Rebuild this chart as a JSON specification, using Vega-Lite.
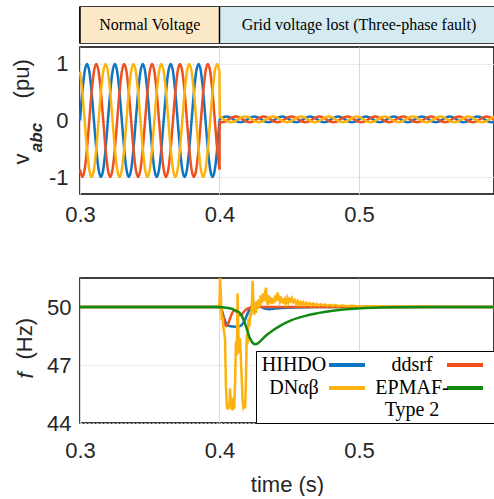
{
  "$schema": "https://vega.github.io/schema/vega-lite/v6.json",
  "autosize": {"type": "pad"},
  "padding": {"left": 9, "top": 5, "right": 0, "bottom": 0},
  "background": "white",
  "config": {
    "font": "Liberation Sans",
    "view": {"stroke": "#000", "strokeWidth": 1.5},
    "axis": {
      "labelFont": "Liberation Sans", "titleFont": "Liberation Sans",
      "labelFontSize": 22, "titleFontSize": 22,
      "labelColor": "#262626", "titleColor": "#262626", "titleFontWeight": "normal",
      "domain": false, "ticks": false,
      "gridColor": "#d9d9d9", "gridWidth": 1,
      "labelFlush": false, "labelOverlap": false
    }
  },
  "datasets": {
    "pre": [
      {"t":0.3,"a":0,"b":-0.866,"c":0.866},{"t":0.30167,"a":0.5,"b":-1,"c":0.5},{"t":0.30333,"a":0.866,"b":-0.866,"c":0},{"t":0.305,"a":1,"b":-0.5,"c":-0.5},{"t":0.30667,"a":0.866,"b":0,"c":-0.866},{"t":0.30833,"a":0.5,"b":0.5,"c":-1},{"t":0.31,"a":0,"b":0.866,"c":-0.866},{"t":0.31167,"a":-0.5,"b":1,"c":-0.5},{"t":0.31333,"a":-0.866,"b":0.866,"c":0},{"t":0.315,"a":-1,"b":0.5,"c":0.5},{"t":0.31667,"a":-0.866,"b":0,"c":0.866},{"t":0.31833,"a":-0.5,"b":-0.5,"c":1},
      {"t":0.32,"a":0,"b":-0.866,"c":0.866},{"t":0.32167,"a":0.5,"b":-1,"c":0.5},{"t":0.32333,"a":0.866,"b":-0.866,"c":0},{"t":0.325,"a":1,"b":-0.5,"c":-0.5},{"t":0.32667,"a":0.866,"b":0,"c":-0.866},{"t":0.32833,"a":0.5,"b":0.5,"c":-1},{"t":0.33,"a":0,"b":0.866,"c":-0.866},{"t":0.33167,"a":-0.5,"b":1,"c":-0.5},{"t":0.33333,"a":-0.866,"b":0.866,"c":0},{"t":0.335,"a":-1,"b":0.5,"c":0.5},{"t":0.33667,"a":-0.866,"b":0,"c":0.866},{"t":0.33833,"a":-0.5,"b":-0.5,"c":1},
      {"t":0.34,"a":0,"b":-0.866,"c":0.866},{"t":0.34167,"a":0.5,"b":-1,"c":0.5},{"t":0.34333,"a":0.866,"b":-0.866,"c":0},{"t":0.345,"a":1,"b":-0.5,"c":-0.5},{"t":0.34667,"a":0.866,"b":0,"c":-0.866},{"t":0.34833,"a":0.5,"b":0.5,"c":-1},{"t":0.35,"a":0,"b":0.866,"c":-0.866},{"t":0.35167,"a":-0.5,"b":1,"c":-0.5},{"t":0.35333,"a":-0.866,"b":0.866,"c":0},{"t":0.355,"a":-1,"b":0.5,"c":0.5},{"t":0.35667,"a":-0.866,"b":0,"c":0.866},{"t":0.35833,"a":-0.5,"b":-0.5,"c":1},
      {"t":0.36,"a":0,"b":-0.866,"c":0.866},{"t":0.36167,"a":0.5,"b":-1,"c":0.5},{"t":0.36333,"a":0.866,"b":-0.866,"c":0},{"t":0.365,"a":1,"b":-0.5,"c":-0.5},{"t":0.36667,"a":0.866,"b":0,"c":-0.866},{"t":0.36833,"a":0.5,"b":0.5,"c":-1},{"t":0.37,"a":0,"b":0.866,"c":-0.866},{"t":0.37167,"a":-0.5,"b":1,"c":-0.5},{"t":0.37333,"a":-0.866,"b":0.866,"c":0},{"t":0.375,"a":-1,"b":0.5,"c":0.5},{"t":0.37667,"a":-0.866,"b":0,"c":0.866},{"t":0.37833,"a":-0.5,"b":-0.5,"c":1},
      {"t":0.38,"a":0,"b":-0.866,"c":0.866},{"t":0.38167,"a":0.5,"b":-1,"c":0.5},{"t":0.38333,"a":0.866,"b":-0.866,"c":0},{"t":0.385,"a":1,"b":-0.5,"c":-0.5},{"t":0.38667,"a":0.866,"b":0,"c":-0.866},{"t":0.38833,"a":0.5,"b":0.5,"c":-1},{"t":0.39,"a":0,"b":0.866,"c":-0.866},{"t":0.39167,"a":-0.5,"b":1,"c":-0.5},{"t":0.39333,"a":-0.866,"b":0.866,"c":0},{"t":0.395,"a":-1,"b":0.5,"c":0.5},{"t":0.39667,"a":-0.866,"b":0,"c":0.866},{"t":0.39833,"a":-0.5,"b":-0.5,"c":1},
      {"t":0.4,"a":0,"b":-0.866,"c":0.866}
    ],
    "post": [
      {"t":0.4,"a":0,"b":-0.866,"c":0.866},
      {"t":0.4002,"a":0.02,"b":-0.023,"c":0.063},{"t":0.40167,"a":0.045,"b":-0.03,"c":0.045},{"t":0.40333,"a":0.063,"b":-0.023,"c":0.02},{"t":0.405,"a":0.07,"b":-0.005,"c":-0.005},{"t":0.40667,"a":0.063,"b":0.02,"c":-0.023},{"t":0.40833,"a":0.045,"b":0.045,"c":-0.03},{"t":0.41,"a":0.02,"b":0.063,"c":-0.023},{"t":0.41167,"a":-0.005,"b":0.07,"c":-0.005},{"t":0.41333,"a":-0.023,"b":0.063,"c":0.02},{"t":0.415,"a":-0.03,"b":0.045,"c":0.045},{"t":0.41667,"a":-0.023,"b":0.02,"c":0.063},{"t":0.41833,"a":-0.005,"b":-0.005,"c":0.07},
      {"t":0.42,"a":0.02,"b":-0.023,"c":0.063},{"t":0.42167,"a":0.045,"b":-0.03,"c":0.045},{"t":0.42333,"a":0.063,"b":-0.023,"c":0.02},{"t":0.425,"a":0.07,"b":-0.005,"c":-0.005},{"t":0.42667,"a":0.063,"b":0.02,"c":-0.023},{"t":0.42833,"a":0.045,"b":0.045,"c":-0.03},{"t":0.43,"a":0.02,"b":0.063,"c":-0.023},{"t":0.43167,"a":-0.005,"b":0.07,"c":-0.005},{"t":0.43333,"a":-0.023,"b":0.063,"c":0.02},{"t":0.435,"a":-0.03,"b":0.045,"c":0.045},{"t":0.43667,"a":-0.023,"b":0.02,"c":0.063},{"t":0.43833,"a":-0.005,"b":-0.005,"c":0.07},
      {"t":0.44,"a":0.02,"b":-0.023,"c":0.063},{"t":0.44167,"a":0.045,"b":-0.03,"c":0.045},{"t":0.44333,"a":0.063,"b":-0.023,"c":0.02},{"t":0.445,"a":0.07,"b":-0.005,"c":-0.005},{"t":0.44667,"a":0.063,"b":0.02,"c":-0.023},{"t":0.44833,"a":0.045,"b":0.045,"c":-0.03},{"t":0.45,"a":0.02,"b":0.063,"c":-0.023},{"t":0.45167,"a":-0.005,"b":0.07,"c":-0.005},{"t":0.45333,"a":-0.023,"b":0.063,"c":0.02},{"t":0.455,"a":-0.03,"b":0.045,"c":0.045},{"t":0.45667,"a":-0.023,"b":0.02,"c":0.063},{"t":0.45833,"a":-0.005,"b":-0.005,"c":0.07},
      {"t":0.46,"a":0.02,"b":-0.023,"c":0.063},{"t":0.46167,"a":0.045,"b":-0.03,"c":0.045},{"t":0.46333,"a":0.063,"b":-0.023,"c":0.02},{"t":0.465,"a":0.07,"b":-0.005,"c":-0.005},{"t":0.46667,"a":0.063,"b":0.02,"c":-0.023},{"t":0.46833,"a":0.045,"b":0.045,"c":-0.03},{"t":0.47,"a":0.02,"b":0.063,"c":-0.023},{"t":0.47167,"a":-0.005,"b":0.07,"c":-0.005},{"t":0.47333,"a":-0.023,"b":0.063,"c":0.02},{"t":0.475,"a":-0.03,"b":0.045,"c":0.045},{"t":0.47667,"a":-0.023,"b":0.02,"c":0.063},{"t":0.47833,"a":-0.005,"b":-0.005,"c":0.07},
      {"t":0.48,"a":0.02,"b":-0.023,"c":0.063},{"t":0.48167,"a":0.045,"b":-0.03,"c":0.045},{"t":0.48333,"a":0.063,"b":-0.023,"c":0.02},{"t":0.485,"a":0.07,"b":-0.005,"c":-0.005},{"t":0.48667,"a":0.063,"b":0.02,"c":-0.023},{"t":0.48833,"a":0.045,"b":0.045,"c":-0.03},{"t":0.49,"a":0.02,"b":0.063,"c":-0.023},{"t":0.49167,"a":-0.005,"b":0.07,"c":-0.005},{"t":0.49333,"a":-0.023,"b":0.063,"c":0.02},{"t":0.495,"a":-0.03,"b":0.045,"c":0.045},{"t":0.49667,"a":-0.023,"b":0.02,"c":0.063},{"t":0.49833,"a":-0.005,"b":-0.005,"c":0.07},
      {"t":0.5,"a":0.02,"b":-0.023,"c":0.063},{"t":0.50167,"a":0.045,"b":-0.03,"c":0.045},{"t":0.50333,"a":0.063,"b":-0.023,"c":0.02},{"t":0.505,"a":0.07,"b":-0.005,"c":-0.005},{"t":0.50667,"a":0.063,"b":0.02,"c":-0.023},{"t":0.50833,"a":0.045,"b":0.045,"c":-0.03},{"t":0.51,"a":0.02,"b":0.063,"c":-0.023},{"t":0.51167,"a":-0.005,"b":0.07,"c":-0.005},{"t":0.51333,"a":-0.023,"b":0.063,"c":0.02},{"t":0.515,"a":-0.03,"b":0.045,"c":0.045},{"t":0.51667,"a":-0.023,"b":0.02,"c":0.063},{"t":0.51833,"a":-0.005,"b":-0.005,"c":0.07},
      {"t":0.52,"a":0.02,"b":-0.023,"c":0.063},{"t":0.52167,"a":0.045,"b":-0.03,"c":0.045},{"t":0.52333,"a":0.063,"b":-0.023,"c":0.02},{"t":0.525,"a":0.07,"b":-0.005,"c":-0.005},{"t":0.52667,"a":0.063,"b":0.02,"c":-0.023},{"t":0.52833,"a":0.045,"b":0.045,"c":-0.03},{"t":0.53,"a":0.02,"b":0.063,"c":-0.023},{"t":0.53167,"a":-0.005,"b":0.07,"c":-0.005},{"t":0.53333,"a":-0.023,"b":0.063,"c":0.02},{"t":0.535,"a":-0.03,"b":0.045,"c":0.045},{"t":0.53667,"a":-0.023,"b":0.02,"c":0.063},{"t":0.53833,"a":-0.005,"b":-0.005,"c":0.07},
      {"t":0.54,"a":0.02,"b":-0.023,"c":0.063},{"t":0.54167,"a":0.045,"b":-0.03,"c":0.045},{"t":0.54333,"a":0.063,"b":-0.023,"c":0.02},{"t":0.545,"a":0.07,"b":-0.005,"c":-0.005},{"t":0.54667,"a":0.063,"b":0.02,"c":-0.023},{"t":0.54833,"a":0.045,"b":0.045,"c":-0.03},{"t":0.55,"a":0.02,"b":0.063,"c":-0.023},{"t":0.55167,"a":-0.005,"b":0.07,"c":-0.005},{"t":0.55333,"a":-0.023,"b":0.063,"c":0.02},{"t":0.555,"a":-0.03,"b":0.045,"c":0.045},{"t":0.55667,"a":-0.023,"b":0.02,"c":0.063},{"t":0.55833,"a":-0.005,"b":-0.005,"c":0.07},
      {"t":0.56,"a":0.02,"b":-0.023,"c":0.063},{"t":0.56167,"a":0.045,"b":-0.03,"c":0.045},{"t":0.56333,"a":0.063,"b":-0.023,"c":0.02},{"t":0.565,"a":0.07,"b":-0.005,"c":-0.005},{"t":0.56667,"a":0.063,"b":0.02,"c":-0.023},{"t":0.56833,"a":0.045,"b":0.045,"c":-0.03},{"t":0.57,"a":0.02,"b":0.063,"c":-0.023},{"t":0.57167,"a":-0.005,"b":0.07,"c":-0.005},{"t":0.57333,"a":-0.023,"b":0.063,"c":0.02},{"t":0.575,"a":-0.03,"b":0.045,"c":0.045},{"t":0.57667,"a":-0.023,"b":0.02,"c":0.063},{"t":0.57833,"a":-0.005,"b":-0.005,"c":0.07},
      {"t":0.58,"a":0.02,"b":-0.023,"c":0.063},{"t":0.58167,"a":0.045,"b":-0.03,"c":0.045},{"t":0.58333,"a":0.063,"b":-0.023,"c":0.02},{"t":0.585,"a":0.07,"b":-0.005,"c":-0.005},{"t":0.58667,"a":0.063,"b":0.02,"c":-0.023},{"t":0.58833,"a":0.045,"b":0.045,"c":-0.03},{"t":0.59,"a":0.02,"b":0.063,"c":-0.023},{"t":0.59167,"a":-0.005,"b":0.07,"c":-0.005},{"t":0.59333,"a":-0.023,"b":0.063,"c":0.02},{"t":0.595,"a":-0.03,"b":0.045,"c":0.045},{"t":0.59667,"a":-0.023,"b":0.02,"c":0.063},{"t":0.59833,"a":-0.005,"b":-0.005,"c":0.07}
    ],
    "freq": [
      {"m":"HIHDO","t":0.3,"f":50},{"m":"HIHDO","t":0.4,"f":50},{"m":"HIHDO","t":0.4015,"f":49.85},{"m":"HIHDO","t":0.403,"f":49.5},{"m":"HIHDO","t":0.4045,"f":49.2},{"m":"HIHDO","t":0.406,"f":49.06},{"m":"HIHDO","t":0.408,"f":49.0},{"m":"HIHDO","t":0.411,"f":48.98},{"m":"HIHDO","t":0.414,"f":49.0},{"m":"HIHDO","t":0.416,"f":49.08},{"m":"HIHDO","t":0.418,"f":49.3},{"m":"HIHDO","t":0.4202,"f":49.67},{"m":"HIHDO","t":0.4225,"f":50.0},{"m":"HIHDO","t":0.425,"f":50.15},{"m":"HIHDO","t":0.4265,"f":50.18},{"m":"HIHDO","t":0.428,"f":50.12},{"m":"HIHDO","t":0.4305,"f":49.98},{"m":"HIHDO","t":0.433,"f":49.91},{"m":"HIHDO","t":0.436,"f":49.89},{"m":"HIHDO","t":0.44,"f":49.92},{"m":"HIHDO","t":0.445,"f":49.95},{"m":"HIHDO","t":0.455,"f":49.98},{"m":"HIHDO","t":0.47,"f":50},{"m":"HIHDO","t":0.5968,"f":50},
      {"m":"ddsrf","t":0.3,"f":50},{"m":"ddsrf","t":0.4,"f":50},{"m":"ddsrf","t":0.4015,"f":49.88},{"m":"ddsrf","t":0.403,"f":49.4},{"m":"ddsrf","t":0.4047,"f":49.0},{"m":"ddsrf","t":0.406,"f":49.1},{"m":"ddsrf","t":0.408,"f":49.5},{"m":"ddsrf","t":0.4106,"f":49.83},{"m":"ddsrf","t":0.4125,"f":49.72},{"m":"ddsrf","t":0.4142,"f":49.57},{"m":"ddsrf","t":0.416,"f":49.62},{"m":"ddsrf","t":0.418,"f":49.8},{"m":"ddsrf","t":0.4205,"f":49.93},{"m":"ddsrf","t":0.4235,"f":49.98},{"m":"ddsrf","t":0.427,"f":50},{"m":"ddsrf","t":0.5968,"f":50},
      {"m":"DNαβ","t":0.3,"f":50},{"m":"DNαβ","t":0.3995,"f":50},{"m":"DNαβ","t":0.4,"f":50.2},{"m":"DNαβ","t":0.4004,"f":51.5},{"m":"DNαβ","t":0.401,"f":50.6},{"m":"DNαβ","t":0.4016,"f":49.3},{"m":"DNαβ","t":0.4022,"f":49.5},{"m":"DNαβ","t":0.4028,"f":48.9},{"m":"DNαβ","t":0.4034,"f":48.7},{"m":"DNαβ","t":0.404,"f":48.3},{"m":"DNαβ","t":0.4046,"f":46.0},{"m":"DNαβ","t":0.4052,"f":44.9},{"m":"DNαβ","t":0.4058,"f":44.7},{"m":"DNαβ","t":0.4064,"f":45.0},{"m":"DNαβ","t":0.407,"f":44.75},{"m":"DNαβ","t":0.4076,"f":45.8},{"m":"DNαβ","t":0.4082,"f":44.9},{"m":"DNαβ","t":0.4088,"f":44.7},{"m":"DNαβ","t":0.4094,"f":45.3},{"m":"DNαβ","t":0.41,"f":44.75},{"m":"DNαβ","t":0.4106,"f":44.8},{"m":"DNαβ","t":0.4112,"f":46.2},{"m":"DNαβ","t":0.4118,"f":48.2},{"m":"DNαβ","t":0.4124,"f":47.5},{"m":"DNαβ","t":0.413,"f":50.7},{"m":"DNαβ","t":0.4136,"f":48.6},{"m":"DNαβ","t":0.4142,"f":47.6},{"m":"DNαβ","t":0.4148,"f":48.4},{"m":"DNαβ","t":0.4154,"f":47.2},{"m":"DNαβ","t":0.416,"f":46.2},{"m":"DNαβ","t":0.4166,"f":45.1},{"m":"DNαβ","t":0.4172,"f":44.8},{"m":"DNαβ","t":0.4178,"f":44.9},{"m":"DNαβ","t":0.4184,"f":44.75},{"m":"DNαβ","t":0.419,"f":46.4},{"m":"DNαβ","t":0.4196,"f":48.6},{"m":"DNαβ","t":0.4202,"f":48.1},{"m":"DNαβ","t":0.4208,"f":49.4},{"m":"DNαβ","t":0.4214,"f":49.0},{"m":"DNαβ","t":0.422,"f":49.7},{"m":"DNαβ","t":0.4226,"f":49.5},{"m":"DNαβ","t":0.4232,"f":50.1},{"m":"DNαβ","t":0.4238,"f":51.35},{"m":"DNαβ","t":0.4244,"f":50.0},{"m":"DNαβ","t":0.425,"f":49.6},{"m":"DNαβ","t":0.4256,"f":50.2},{"m":"DNαβ","t":0.4262,"f":49.7},{"m":"DNαβ","t":0.4268,"f":50.3},{"m":"DNαβ","t":0.4274,"f":49.9},{"m":"DNαβ","t":0.428,"f":50.4},{"m":"DNαβ","t":0.4288,"f":50.0},{"m":"DNαβ","t":0.4296,"f":50.6},{"m":"DNαβ","t":0.4304,"f":50.2},{"m":"DNαβ","t":0.4312,"f":50.7},{"m":"DNαβ","t":0.432,"f":50.3},{"m":"DNαβ","t":0.4328,"f":50.8},{"m":"DNαβ","t":0.4334,"f":51.0},{"m":"DNαβ","t":0.434,"f":50.3},{"m":"DNαβ","t":0.4347,"f":50.1},{"m":"DNαβ","t":0.4354,"f":50.6},{"m":"DNαβ","t":0.4361,"f":50.2},{"m":"DNαβ","t":0.4368,"f":50.5},{"m":"DNαβ","t":0.4375,"f":50.15},{"m":"DNαβ","t":0.4383,"f":50.45},{"m":"DNαβ","t":0.4391,"f":50.2},{"m":"DNαβ","t":0.44,"f":50.6},{"m":"DNαβ","t":0.4408,"f":50.3},{"m":"DNαβ","t":0.4416,"f":50.75},{"m":"DNαβ","t":0.4424,"f":50.5},{"m":"DNαβ","t":0.4432,"f":50.3},{"m":"DNαβ","t":0.444,"f":50.55},{"m":"DNαβ","t":0.4448,"f":50.2},{"m":"DNαβ","t":0.4456,"f":50.45},{"m":"DNαβ","t":0.4464,"f":50.15},{"m":"DNαβ","t":0.4472,"f":50.4},{"m":"DNαβ","t":0.448,"f":50.2},{"m":"DNαβ","t":0.4488,"f":50.45},{"m":"DNαβ","t":0.4496,"f":50.25},{"m":"DNαβ","t":0.4504,"f":50.4},{"m":"DNαβ","t":0.4512,"f":50.3},{"m":"DNαβ","t":0.452,"f":50.45},{"m":"DNαβ","t":0.453,"f":50.25},{"m":"DNαβ","t":0.454,"f":50.35},{"m":"DNαβ","t":0.455,"f":50.15},{"m":"DNαβ","t":0.456,"f":50.3},{"m":"DNαβ","t":0.457,"f":50.12},{"m":"DNαβ","t":0.458,"f":50.25},{"m":"DNαβ","t":0.459,"f":50.12},{"m":"DNαβ","t":0.46,"f":50.25},{"m":"DNαβ","t":0.4612,"f":50.1},{"m":"DNαβ","t":0.4624,"f":50.22},{"m":"DNαβ","t":0.4636,"f":50.1},{"m":"DNαβ","t":0.4648,"f":50.2},{"m":"DNαβ","t":0.466,"f":50.08},{"m":"DNαβ","t":0.4672,"f":50.18},{"m":"DNαβ","t":0.4684,"f":50.08},{"m":"DNαβ","t":0.4696,"f":50.16},{"m":"DNαβ","t":0.471,"f":50.07},{"m":"DNαβ","t":0.4725,"f":50.14},{"m":"DNαβ","t":0.474,"f":50.07},{"m":"DNαβ","t":0.4755,"f":50.13},{"m":"DNαβ","t":0.477,"f":50.06},{"m":"DNαβ","t":0.479,"f":50.11},{"m":"DNαβ","t":0.481,"f":50.06},{"m":"DNαβ","t":0.483,"f":50.1},{"m":"DNαβ","t":0.485,"f":50.05},{"m":"DNαβ","t":0.488,"f":50.08},{"m":"DNαβ","t":0.491,"f":50.04},{"m":"DNαβ","t":0.495,"f":50.06},{"m":"DNαβ","t":0.5,"f":50.03},{"m":"DNαβ","t":0.51,"f":50.04},{"m":"DNαβ","t":0.52,"f":50.02},{"m":"DNαβ","t":0.54,"f":50.02},{"m":"DNαβ","t":0.5968,"f":50.0},
      {"m":"EPMAF-Type 2","t":0.3,"f":50},{"m":"EPMAF-Type 2","t":0.4,"f":50},{"m":"EPMAF-Type 2","t":0.403,"f":49.98},{"m":"EPMAF-Type 2","t":0.406,"f":49.95},{"m":"EPMAF-Type 2","t":0.409,"f":49.9},{"m":"EPMAF-Type 2","t":0.412,"f":49.8},{"m":"EPMAF-Type 2","t":0.4154,"f":49.62},{"m":"EPMAF-Type 2","t":0.417,"f":49.38},{"m":"EPMAF-Type 2","t":0.419,"f":49.0},{"m":"EPMAF-Type 2","t":0.4214,"f":48.45},{"m":"EPMAF-Type 2","t":0.4235,"f":48.17},{"m":"EPMAF-Type 2","t":0.4255,"f":48.07},{"m":"EPMAF-Type 2","t":0.4275,"f":48.12},{"m":"EPMAF-Type 2","t":0.4297,"f":48.26},{"m":"EPMAF-Type 2","t":0.433,"f":48.5},{"m":"EPMAF-Type 2","t":0.4369,"f":48.72},{"m":"EPMAF-Type 2","t":0.444,"f":49.05},{"m":"EPMAF-Type 2","t":0.4513,"f":49.31},{"m":"EPMAF-Type 2","t":0.4632,"f":49.57},{"m":"EPMAF-Type 2","t":0.4751,"f":49.74},{"m":"EPMAF-Type 2","t":0.4871,"f":49.86},{"m":"EPMAF-Type 2","t":0.499,"f":49.92},{"m":"EPMAF-Type 2","t":0.51,"f":49.96},{"m":"EPMAF-Type 2","t":0.525,"f":49.985},{"m":"EPMAF-Type 2","t":0.55,"f":50},{"m":"EPMAF-Type 2","t":0.5968,"f":50}
    ]
  },
  "spacing": 1,
  "resolve": {"scale": {"color": "independent", "fill": "independent"}, "legend": {"color": "independent", "fill": "independent"}},
  "vconcat": [
    {
      "width": 414,
      "height": 36,
      "data": {"values": [
        {"stage": "Normal Voltage", "start": 0.3, "end": 0.4},
        {"stage": "Grid voltage lost (Three-phase fault)", "start": 0.4, "end": 0.6}
      ]},
      "transform": [{"calculate": "(datum.start + datum.end) / 2", "as": "mid"}],
      "layer": [
        {
          "mark": {"type": "rect", "clip": true},
          "encoding": {
            "x": {"field": "start", "type": "quantitative", "scale": {"domain": [0.3, 0.5968], "nice": false, "zero": false}, "axis": null},
            "x2": {"field": "end"},
            "fill": {"field": "stage", "type": "nominal",
                     "scale": {"domain": ["Normal Voltage", "Grid voltage lost (Three-phase fault)"], "range": ["#fce9c8", "#d4ecf1"]},
                     "legend": null}
          }
        },
        {
          "mark": {"type": "rule", "color": "#000", "strokeWidth": 1.5},
          "encoding": {
            "x": {"field": "start", "type": "quantitative", "axis": null}
          }
        },
        {
          "mark": {"type": "text", "font": "Liberation Serif", "fontSize": 16, "color": "#000"},
          "encoding": {
            "x": {"field": "mid", "type": "quantitative", "axis": null},
            "y": {"datum": 0.5, "type": "quantitative", "scale": {"domain": [0, 1]}, "axis": null},
            "text": {"field": "stage"}
          }
        }
      ]
    },
    {
      "width": 414,
      "height": 147,
      "resolve": {"scale": {"y": "independent"}},
      "encoding": {
        "x": {"field": "t", "type": "quantitative", "scale": {"domain": [0.3, 0.5968], "nice": false, "zero": false},
              "axis": {"values": [0.3, 0.4, 0.5], "format": ".1f", "grid": true, "labelPadding": 10,
                       "title": "\u00a0", "titlePadding": 29}},
        "color": {"field": "phase", "type": "nominal", "scale": {"domain": ["a", "b", "c"], "range": ["#0f75c0", "#f0501e", "#fdb30f"]}, "legend": null}
      },
      "layer": [
        {
          "data": {"name": "pre"},
          "transform": [{"fold": ["a", "b", "c"], "as": ["phase", "v"]}],
          "mark": {"type": "line", "interpolate": "monotone", "strokeWidth": 2.5},
          "encoding": {
            "y": {"field": "v", "type": "quantitative", "scale": {"domain": [-1.3, 1.3], "nice": false, "zero": false},
                  "axis": {"orient": "left", "values": [-1, 0, 1], "labelExpr": "'' + datum.value", "grid": true, "gridDash": [2, 2], "labelPadding": 12,
                           "title": "\u200b\u00a0\u00a0\u00a0v\u00a0\u00a0\u00a0\u00a0\u00a0\u00a0\u00a0\u00a0\u00a0(pu)", "titlePadding": 15}}
          }
        },
        {
          "data": {"name": "post"},
          "transform": [{"fold": ["a", "b", "c"], "as": ["phase", "v"]}],
          "mark": {"type": "line", "interpolate": "monotone", "strokeWidth": 2.5, "clip": true},
          "encoding": {
            "y": {"field": "v", "type": "quantitative", "scale": {"domain": [-1.3, 1.3], "nice": false, "zero": false},
                  "axis": {"orient": "left", "labels": false, "grid": false,
                           "title": "abc\u00a0\u00a0\u00a0\u00a0\u00a0\u00a0\u00a0\u200b", "titleFontSize": 17, "titleFontWeight": "bold", "titleFontStyle": "italic", "titlePadding": 35}}
          }
        }
      ]
    },
    {
      "width": 414,
      "height": 145,
      "data": {"name": "freq"},
      "resolve": {"scale": {"y": "independent"}},
      "encoding": {
        "x": {"field": "t", "type": "quantitative", "scale": {"domain": [0.3, 0.5968], "nice": false, "zero": false},
              "axis": {"values": [0.3, 0.4, 0.5], "format": ".1f", "grid": true, "labelPadding": 17, "title": "time (s)", "titlePadding": 13}},
        "color": {
          "field": "m", "type": "nominal",
          "scale": {"domain": ["HIHDO", "ddsrf", "DNαβ", "EPMAF-Type 2"], "range": ["#0f75c0", "#f0501e", "#fdb30f", "#128a12"]},
          "legend": {
            "title": null, "orient": "bottom-right", "offset": 0, "columns": 2, "direction": "horizontal",
            "symbolType": "M-2,0H2", "symbolSize": 324, "symbolStrokeWidth": 4, "symbolOffset": 77,
            "labelFont": "Liberation Serif", "labelFontSize": 20, "labelColor": "#000",
            "labelAlign": "center", "labelBaseline": "middle", "labelOffset": -64, "labelLimit": 0,
            "labelExpr": "datum.label == 'EPMAF-Type 2' ? ['EPMAF-', 'Type 2'] : datum.label",
            "columnPadding": 2, "rowPadding": 2, "padding": 3,
            "strokeColor": "#000", "fillColor": "#fff"
          }
        }
      },
      "layer": [
        {
          "transform": [{"filter": {"field": "m", "oneOf": ["HIHDO", "ddsrf"]}}],
          "mark": {"type": "line", "interpolate": "monotone", "strokeWidth": 2.5},
          "encoding": {
            "y": {"field": "f", "type": "quantitative", "scale": {"domain": [44, 51.5], "nice": false, "zero": false},
                  "axis": {"orient": "left", "values": [44, 47, 50], "grid": true, "gridDash": [2, 2], "labelPadding": 9,
                           "title": "\u200b\u00a0\u00a0\u00a0\u00a0(Hz)", "titlePadding": 10}}
          }
        },
        {
          "transform": [{"filter": {"field": "m", "equal": "DNαβ"}}],
          "mark": {"type": "line", "strokeWidth": 2.5, "clip": true},
          "encoding": {
            "y": {"field": "f", "type": "quantitative", "scale": {"domain": [44, 51.5], "nice": false, "zero": false},
                  "axis": {"orient": "left", "labels": false, "grid": false,
                           "title": "f\u00a0\u00a0\u00a0\u00a0\u00a0\u00a0\u00a0\u00a0\u200b", "titleFontStyle": "italic", "titlePadding": 43}}
          }
        },
        {
          "transform": [{"filter": {"field": "m", "equal": "EPMAF-Type 2"}}],
          "mark": {"type": "line", "interpolate": "monotone", "strokeWidth": 2.5},
          "encoding": {
            "y": {"field": "f", "type": "quantitative", "scale": {"domain": [44, 51.5], "nice": false, "zero": false}, "axis": null}
          }
        }
      ]
    }
  ]
}
